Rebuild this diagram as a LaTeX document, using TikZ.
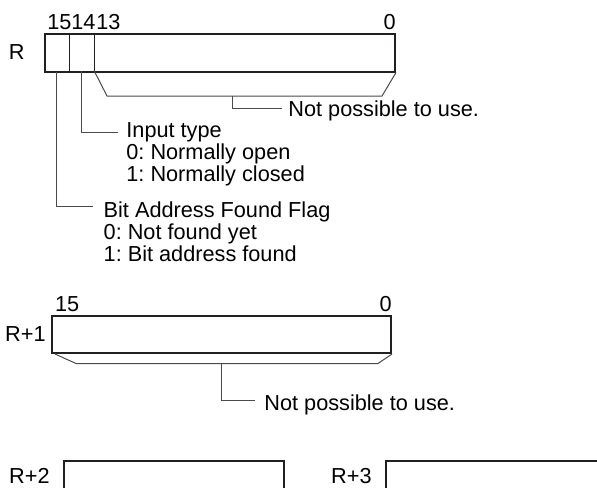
\documentclass[tikz,border=0pt]{standalone}
\usepackage{fontspec}
\setmainfont{Liberation Sans}
\frenchspacing
\usetikzlibrary{positioning,calc}
\definecolor{ink}{HTML}{231F20}
\definecolor{lead}{HTML}{4A4A4A}
\tikzset{word/.style={draw=ink,line width=1pt,inner sep=0pt,anchor=north west},sep/.style={draw=ink,line width=.5pt},leader/.style={draw=lead,line width=.5pt},txt/.style={inner sep=0pt,align=left,anchor=base west},bitno/.style={inner sep=0pt}}

\begin{document}
\begin{tikzpicture}[x=.5pt,y=-.5pt,font=\fontsize{10.85}{11}\selectfont]
\useasboundingbox (0,0) rectangle (597,487);
\clip (0,0) rectangle (597,487);
% word R
\node[word,minimum width=175pt,minimum height=19pt] (R) at (44,32.5) {};
\node[left=9.5pt of R.west,inner sep=0pt] (lR) {R};
\foreach \x/\n in {69/a,94/b}{\draw[sep] (\x,32.5) -- (\x,70.5) coordinate (\n);}
\foreach \x/\n in {47/15,71/14,96/13}{\node[bitno,anchor=base west] (n\n) at (\x,29.3) {\n};}
\node[bitno,anchor=base east] (n0) at ([yshift=1.6pt]R.north east) {0};
\node[txt] (use1) at (288,116.7) {Not possible to use.};
\node[txt,anchor=north west] (type) at (126,121.7) {Input type\\0: Normally open\\1: Normally closed};
\node[txt,anchor=north west] (flag) at (103.3,201.5) {Bit Address Found Flag\\0: Not found yet\\1: Bit address found};
\coordinate (bl) at (107,96);
\coordinate (br) at (382,96);
\draw[leader] (b) -- (bl) -- (br) -- (R.south east);
\draw[leader] (232,96) |- ([xshift=-3pt,yshift=4.3pt]use1.base west);
\draw[leader] ($(a)!.5!(b)$) |- ([xshift=-3.8pt,yshift=-5.5pt]type.north west);
\draw[leader] ($(R.south west)!.5!(a)$) |- ([xshift=-5pt,yshift=-2.6pt]flag.north west);
% word R+1
\node[word,minimum width=169.5pt,minimum height=18.5pt] (R1) at (51,315) {};
\node[left=2.5pt of R1.west,inner sep=0pt] (lR1) {R+1};
\node[bitno,anchor=base west] (m15) at ([xshift=1.8pt,yshift=1.6pt]R1.north west) {15};
\node[bitno,anchor=base east] (m0) at ([yshift=1.6pt]R1.north east) {0};
\node[txt] (use2) at (264,410) {Not possible to use.};
\coordinate (cl) at (76,363.5);
\coordinate (cr) at (378,363.5);
\draw[leader] ([xshift=2pt]R1.south west) -- (cl) -- (cr) -- (R1.south east);
\draw[leader] (221,363.5) |- ([xshift=-4.5pt,yshift=5pt]use2.base west);
% words R+2, R+3
\node[word,minimum width=110pt,minimum height=15pt] (R2) at (63,460) {};
\node[left=6.5pt of R2.west,inner sep=0pt] (lR2) {R+2};
\node[word,minimum width=110pt,minimum height=15pt] (R3) at (385,460) {};
\node[left=6.5pt of R3.west,inner sep=0pt] (lR3) {R+3};
\end{tikzpicture}
\end{document}
